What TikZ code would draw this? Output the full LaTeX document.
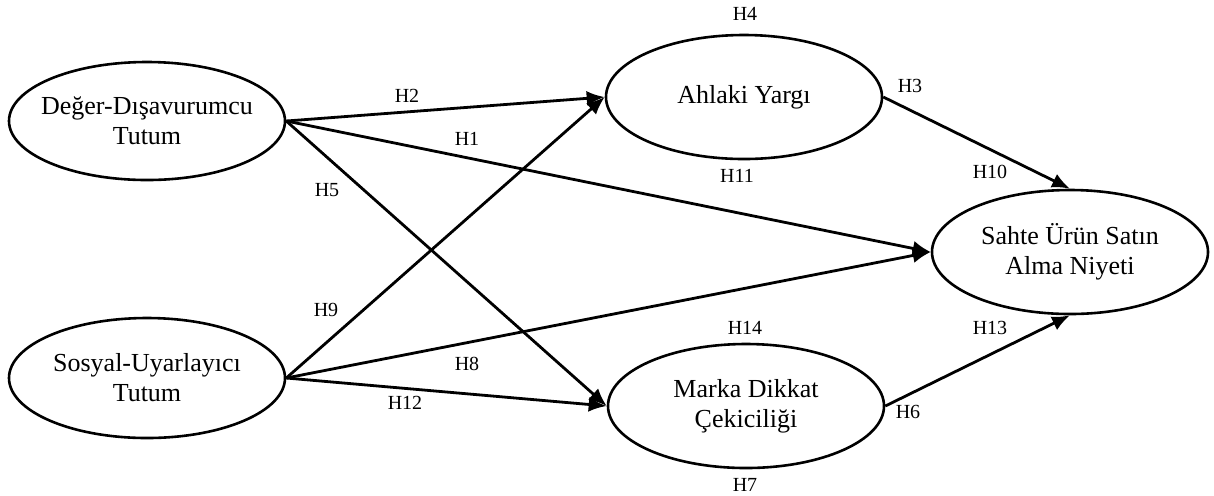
\documentclass[tikz,border=0pt]{standalone}
\usepackage{fontspec}
\setmainfont{Liberation Serif}
\usetikzlibrary{shapes.geometric,arrows.meta,positioning}

\begin{document}
\begin{tikzpicture}[x=0.5pt,y=-0.5pt,
  latent/.style={ellipse,draw,line width=1.3pt,inner xsep=-10pt,inner ysep=0pt,
    minimum width=138pt,minimum height=62pt,align=center,
    font=\fontsize{13}{15}\selectfont},
  hlabel/.style={font=\fontsize{10}{12}\selectfont,inner sep=1pt},
  arr/.style={line width=1.4pt,-{Latex[length=9pt,width=7.5pt]}}]
\useasboundingbox (0,0) rectangle (1214,495);
% constructs
\node[latent,minimum height=59pt] (deger) at (147,121) {Değer-Dışavurumcu\\Tutum};
\node[latent,minimum height=60pt] (sosyal) at (147,378) {Sosyal-Uyarlayıcı\\Tutum};
\node[latent] (ahlak) at (744,97) {Ahlaki Yargı};
\node[latent] (marka) at (746,406) {Marka Dikkat\\Çekiciliği};
\node[latent] (niyet) at (1070,252) {Sahte Ürün Satın\\Alma Niyeti};
% paths
\draw[arr] (deger.east) -- (ahlak.west);
\draw[arr] (deger.east) -- (niyet.west);
\draw[arr] (deger.east) -- (marka.west);
\draw[arr] (sosyal.east) -- (ahlak.west);
\draw[arr] (sosyal.east) -- (niyet.west);
\draw[arr] (sosyal.east) -- (marka.west);
\draw[arr] (ahlak.east) -- (niyet.north);
\draw[arr] (marka.east) -- (niyet.south);
% hypotheses
\node[hlabel] (h1) at (467,139) {H1};
\node[hlabel] (h2) at (407,96) {H2};
\node[hlabel] (h3) at (910,86) {H3};
\node[hlabel] (h4) at (745,14) {H4};
\node[hlabel] (h5) at (327,190) {H5};
\node[hlabel] (h6) at (908,412) {H6};
\node[hlabel] (h7) at (745,485) {H7};
\node[hlabel] (h8) at (467,364) {H8};
\node[hlabel] (h9) at (326,310) {H9};
\node[hlabel] (h10) at (990,172) {H10};
\node[hlabel] (h11) at (737,176) {H11};
\node[hlabel] (h12) at (405,403) {H12};
\node[hlabel] (h13) at (990,328) {H13};
\node[hlabel] (h14) at (745,328) {H14};
\end{tikzpicture}
\end{document}
